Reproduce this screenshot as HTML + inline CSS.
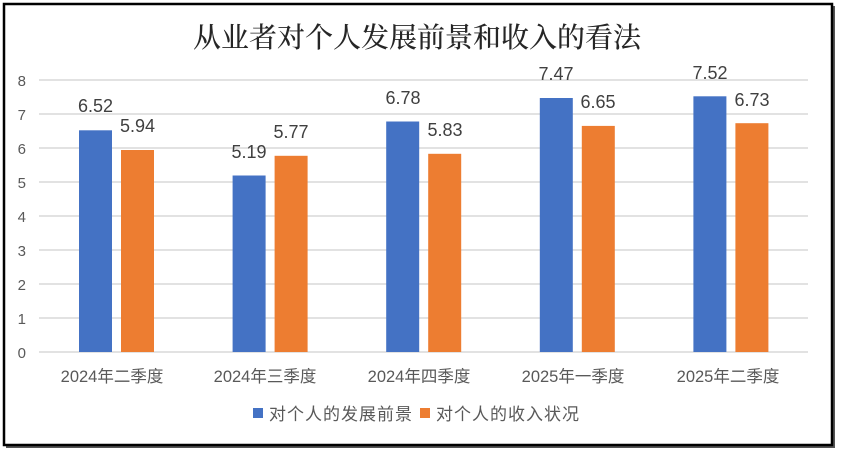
<!DOCTYPE html>
<html><head><meta charset="utf-8"><style>
body{margin:0;background:#fff;}
svg{display:block;}
</style></head><body>
<svg width="843" height="457" xmlns="http://www.w3.org/2000/svg">
<rect x="0" y="0" width="843" height="457" fill="#fff"/>
<rect x="6" y="6" width="829" height="442" fill="#555"/>
<rect x="4" y="4" width="828" height="441" fill="#fff" stroke="#000" stroke-width="2.5"/>
<text x="417" y="47" text-anchor="middle" font-family="'Noto Serif CJK SC',serif" font-size="28" font-weight="500" fill="#262626">从业者对个人发展前景和收入的看法</text>
<g stroke="#d9d9d9" stroke-width="1.5">
<line x1="39" x2="808" y1="80" y2="80"/><line x1="39" x2="808" y1="114" y2="114"/><line x1="39" x2="808" y1="148" y2="148"/><line x1="39" x2="808" y1="182" y2="182"/><line x1="39" x2="808" y1="216" y2="216"/><line x1="39" x2="808" y1="250" y2="250"/><line x1="39" x2="808" y1="284" y2="284"/><line x1="39" x2="808" y1="318" y2="318"/><line x1="39" x2="808" y1="352" y2="352"/>
</g>
<g font-family="'Liberation Sans',sans-serif" font-size="15" fill="#595959" text-anchor="end">
<text x="26" y="86">8</text><text x="26" y="120">7</text><text x="26" y="154">6</text><text x="26" y="188">5</text><text x="26" y="222">4</text><text x="26" y="256">3</text><text x="26" y="290">2</text><text x="26" y="324">1</text><text x="26" y="358">0</text>
</g>
<g font-family="'Liberation Sans','Noto Sans CJK SC',sans-serif" font-size="16.5" fill="#595959" text-anchor="middle">
<text x="112" y="382">2024年二季度</text><text x="265" y="382">2024年三季度</text><text x="419" y="382">2024年四季度</text><text x="573" y="382">2025年一季度</text><text x="728" y="382">2025年二季度</text>
</g>
<g font-family="'Liberation Sans',sans-serif" font-size="18" fill="#404040" text-anchor="middle">
<rect x="79" y="130.3" width="33" height="221.7" fill="#4472c4"/><rect x="121" y="150.0" width="33" height="202" fill="#ed7d31"/>
<text x="95.5" y="112">6.52</text><text x="137.5" y="132">5.94</text>
<rect x="232.6" y="175.5" width="33" height="176.5" fill="#4472c4"/><rect x="274.6" y="155.8" width="33" height="196.2" fill="#ed7d31"/>
<text x="249" y="158">5.19</text><text x="291" y="138">5.77</text>
<rect x="386.2" y="121.5" width="33" height="230.5" fill="#4472c4"/><rect x="428.2" y="153.8" width="33" height="198.2" fill="#ed7d31"/>
<text x="403" y="104">6.78</text><text x="445" y="136">5.83</text>
<rect x="539.8" y="98.0" width="33" height="254" fill="#4472c4"/><rect x="581.8" y="125.9" width="33" height="226.1" fill="#ed7d31"/>
<text x="556" y="80">7.47</text><text x="598" y="108">6.65</text>
<rect x="693.4" y="96.3" width="33" height="255.7" fill="#4472c4"/><rect x="735.4" y="123.2" width="33" height="228.8" fill="#ed7d31"/>
<text x="710" y="79">7.52</text><text x="752" y="106">6.73</text>
</g>
<rect x="253" y="408" width="10" height="10" fill="#4472c4"/>
<rect x="420" y="408" width="10" height="10" fill="#ed7d31"/>
<g font-family="'Liberation Sans','Noto Sans CJK SC',sans-serif" font-size="17" fill="#595959" letter-spacing="1">
<text x="269" y="420">对个人的发展前景</text><text x="436" y="420">对个人的收入状况</text>
</g>
</svg>
</body></html>
